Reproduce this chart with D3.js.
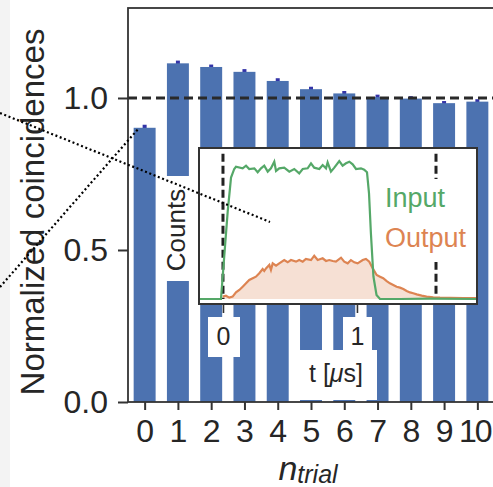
<!DOCTYPE html>
<html>
<head>
<meta charset="utf-8">
<script src="https://cdn.jsdelivr.net/npm/d3@7/dist/d3.min.js"></script>
<style>
  body { margin: 0; background: #fff; }
  text { font-family: Arial, "Liberation Sans", sans-serif; }
</style>
</head>
<body>
<div id="chart"></div>
<script>
// main bars
var trials = [0, 1, 2, 3, 4, 5, 6, 7, 8, 9, 10];
var coincidences = [0.902, 1.114, 1.102, 1.086, 1.056, 1.029, 1.015, 1.003, 0.998, 0.983, 0.988];
var coincErr = [0.010, 0.009, 0.008, 0.009, 0.009, 0.008, 0.008, 0.008, 0.008, 0.007, 0.008];
var yTicks = [0, 0.5, 1.0];

// inset: time in us, counts normalised to the input plateau
var inputTime = [-0.179, -0.097, -0.015, 0.010, 0.035, 0.060, 0.084, 0.097, 0.147, 0.172, 0.196, 0.234, 0.259,
  0.284, 0.308, 0.334, 0.358, 0.383, 0.396, 0.420, 0.457, 0.495, 0.532, 0.569, 0.595, 0.632, 0.657, 0.681,
  0.719, 0.744, 0.769, 0.781, 0.806, 0.831, 0.868, 0.893, 0.918, 0.943, 0.968, 0.993, 1.030, 1.054, 1.075,
  1.090, 1.104, 1.123, 1.146, 1.172, 1.321, 1.545, 1.896];
var inputCounts = [0, 0, 0, 0.33, 0.66, 0.92, 0.985, 1.002, 0.990, 1.010, 0.985, 0.990, 0.960,
  0.990, 1.010, 0.965, 0.990, 1.040, 0.970, 0.990, 0.995, 0.965, 0.985, 0.952, 0.985, 0.990, 1.028, 0.995,
  0.985, 1.015, 0.990, 1.035, 0.965, 0.995, 1.045, 1.010, 1.028, 1.040, 1.020, 0.985, 0.990, 0.980, 0.960,
  0.800, 0.500, 0.170, 0.030, 0, 0, 0.002, 0];
var outputTime = [-0.002, 0.022, 0.047, 0.072, 0.097, 0.122, 0.147, 0.172, 0.196, 0.222, 0.246, 0.271, 0.296,
  0.308, 0.321, 0.346, 0.358, 0.371, 0.396, 0.420, 0.457, 0.483, 0.507, 0.545, 0.569, 0.595, 0.619, 0.657,
  0.681, 0.707, 0.744, 0.769, 0.793, 0.819, 0.843, 0.881, 0.905, 0.931, 0.955, 0.980, 1.005, 1.043, 1.067,
  1.092, 1.120, 1.147, 1.172, 1.196, 1.222, 1.246, 1.271, 1.296, 1.321, 1.346, 1.371, 1.396, 1.420, 1.446,
  1.483, 1.520, 1.569, 1.619, 1.694, 1.793, 1.893];
var outputCounts = [0.018, 0.025, 0.010, 0.018, 0.050, 0.068, 0.093, 0.119, 0.144, 0.157, 0.169, 0.195, 0.227,
  0.212, 0.232, 0.258, 0.220, 0.270, 0.252, 0.270, 0.295, 0.278, 0.295, 0.283, 0.295, 0.283, 0.303, 0.295,
  0.328, 0.295, 0.308, 0.288, 0.295, 0.288, 0.283, 0.313, 0.283, 0.270, 0.295, 0.278, 0.270, 0.295, 0.303,
  0.283, 0.228, 0.182, 0.169, 0.157, 0.136, 0.119, 0.106, 0.093, 0.086, 0.076, 0.061, 0.050, 0.043, 0.035,
  0.025, 0.018, 0.013, 0.010, 0.008, 0.006, 0.006];
var insetTicks = [0, 1];
var pulseMarks = [0, 1.59];
var seriesNames = ["Input", "Output"];

var blue = "#4c72b0", green = "#55a868", orange = "#dd8452", ink = "#262626";

var margin = {top: 8, left: 128},
    width = 366,
    height = 394;

var svg = d3.select("#chart")
  .append("svg")
    .attr("width", 493)
    .attr("height", 487);

// grey page strip on the left
svg.append("rect").attr("x", 0).attr("y", 0).attr("width", 10).attr("height", 487).attr("fill", "#f3f3f3");

var g = svg.append("g")
    .attr("transform", "translate(" + margin.left + "," + margin.top + ")");

var x = d3.scaleLinear().domain([-0.5, 10.5]).range([0, width]);
var y = d3.scaleLinear().domain([0, 1.296]).range([height, 0]);

// error bars go under the bars so only the upper half shows
g.selectAll(".err")
  .data(trials)
  .enter()
  .append("line")
    .attr("x1", function(d) { return x(d); })
    .attr("x2", function(d) { return x(d); })
    .attr("y1", function(d, i) { return y(coincidences[i] - coincErr[i]); })
    .attr("y2", function(d, i) { return y(coincidences[i] + coincErr[i]); })
    .attr("stroke", "#3434a8")
    .attr("stroke-width", 4);

g.selectAll(".bar")
  .data(trials)
  .enter()
  .append("rect")
    .attr("x", function(d) { return x(d - 0.33); })
    .attr("width", x(0.33) - x(-0.33))
    .attr("y", function(d, i) { return y(coincidences[i]); })
    .attr("height", function(d, i) { return height - y(coincidences[i]); })
    .attr("fill", blue);

// reference line at 1
g.append("line")
  .attr("x1", 0).attr("x2", width)
  .attr("y1", y(1)).attr("y2", y(1))
  .attr("stroke", "#2a2a2a")
  .attr("stroke-width", 2.8)
  .attr("stroke-dasharray", "9,5");

// axes
var xAxis = g.append("g")
  .attr("transform", "translate(0," + height + ")")
  .call(d3.axisBottom(x).tickValues(trials).tickSize(8).tickPadding(9).tickFormat(d3.format("d")));
var yAxis = g.append("g")
  .call(d3.axisLeft(y).tickValues(yTicks).tickSize(10).tickPadding(10).tickFormat(d3.format(".1f")));
[xAxis, yAxis].forEach(function(a) {
  a.select(".domain").remove();
  a.selectAll(".tick line").attr("stroke", "#333").attr("stroke-width", 2);
  a.selectAll(".tick text").attr("font-size", 32).attr("fill", ink)
    .style("font-family", "Arial, 'Liberation Sans', sans-serif");
});
// last label squeezed against the edge as in the original
xAxis.selectAll(".tick text").filter(function(d) { return d == 10; })
  .attr("letter-spacing", -2).attr("dx", -3);

g.append("rect")
  .attr("width", width).attr("height", height)
  .attr("fill", "none").attr("stroke", "#333").attr("stroke-width", 1.8);

// axis labels
svg.append("text")
  .attr("transform", "translate(44,212) rotate(-90)")
  .attr("text-anchor", "middle")
  .attr("font-size", 33)
  .attr("fill", ink)
  .text("Normalized coincidences");

var xl = svg.append("text")
  .attr("x", 308).attr("y", 480)
  .attr("text-anchor", "middle")
  .attr("font-style", "italic")
  .attr("fill", ink);
xl.append("tspan").attr("font-size", 34).text("n");
xl.append("tspan").attr("font-size", 25).attr("dy", 3).text("trial");

// white backgrounds of the pasted inset labels
var pads = [[157, 176, 41, 105], [208, 317, 32, 40], [343, 317, 29, 33], [298, 350, 79, 50]];
svg.selectAll(".pad")
  .data(pads)
  .enter()
  .append("rect")
    .attr("x", function(d) { return d[0]; })
    .attr("y", function(d) { return d[1]; })
    .attr("width", function(d) { return d[2]; })
    .attr("height", function(d) { return d[3]; })
    .attr("fill", "#fff");

// inset
var iw = 278, ih = 156;
var inset = svg.append("g").attr("transform", "translate(199,148)");
var ix = d3.scaleLinear().domain([-0.179, 1.896]).range([0, iw]);
var iy = d3.scaleLinear().domain([-0.038, 1.144]).range([ih, 0]);

inset.append("rect").attr("width", iw).attr("height", ih).attr("fill", "#fff");

var outData = outputTime.map(function(t, i) { return [t, outputCounts[i]]; });
var inData = inputTime.map(function(t, i) { return [t, inputCounts[i]]; });

inset.append("path")
  .datum(outData)
  .attr("d", d3.area()
    .x(function(d) { return ix(d[0]); })
    .y0(iy(0))
    .y1(function(d) { return iy(d[1]); }))
  .attr("fill", orange)
  .attr("fill-opacity", 0.25);

var line = d3.line()
  .x(function(d) { return ix(d[0]); })
  .y(function(d) { return iy(d[1]); });

inset.selectAll(".mark")
  .data(pulseMarks)
  .enter()
  .append("line")
    .attr("x1", function(d) { return ix(d); })
    .attr("x2", function(d) { return ix(d); })
    .attr("y1", iy(1.1))
    .attr("y2", iy(0))
    .attr("stroke", "#222")
    .attr("stroke-width", 3)
    .attr("stroke-dasharray", "8,4");

inset.append("path").datum(outData).attr("d", line)
  .attr("fill", "none").attr("stroke", orange).attr("stroke-width", 2.2);
inset.append("path").datum(inData).attr("d", line)
  .attr("fill", "none").attr("stroke", green).attr("stroke-width", 2.2);

// legend text box
inset.append("rect").attr("x", 181).attr("y", 31).attr("width", 92).attr("height", 83).attr("fill", "#fff");
inset.selectAll(".leg")
  .data(seriesNames)
  .enter()
  .append("text")
    .attr("x", 186)
    .attr("y", function(d, i) { return 59 + i * 40; })
    .attr("font-size", 27)
    .attr("fill", function(d, i) { return i == 0 ? green : orange; })
    .text(function(d) { return d; });

inset.append("rect")
  .attr("width", iw).attr("height", ih)
  .attr("fill", "none").attr("stroke", "#333").attr("stroke-width", 2);

var ia = inset.append("g")
  .attr("transform", "translate(0," + ih + ")")
  .call(d3.axisBottom(ix).tickValues(insetTicks).tickSize(9).tickPadding(14).tickFormat(d3.format("d")));
ia.select(".domain").remove();
ia.selectAll(".tick line").attr("stroke", "#333").attr("stroke-width", 1.6);
ia.selectAll(".tick text").attr("font-size", 25).attr("fill", ink)
  .style("font-family", "Arial, 'Liberation Sans', sans-serif");

svg.append("text")
  .attr("transform", "translate(185,230) rotate(-90)")
  .attr("text-anchor", "middle")
  .attr("font-size", 26)
  .attr("fill", ink)
  .text("Counts");

var tl = svg.append("text")
  .attr("x", 336).attr("y", 382)
  .attr("text-anchor", "middle")
  .attr("font-size", 25)
  .attr("fill", ink);
tl.append("tspan").text("t [");
tl.append("tspan").attr("font-style", "italic").text("\u03bc");
tl.append("tspan").text("s]");

// dotted zoom guides
var guides = [[[0, 113], [270, 222]], [[0, 287], [139, 128]]];
svg.selectAll(".guide")
  .data(guides)
  .enter()
  .append("line")
    .attr("x1", function(d) { return d[0][0]; })
    .attr("y1", function(d) { return d[0][1]; })
    .attr("x2", function(d) { return d[1][0]; })
    .attr("y2", function(d) { return d[1][1]; })
    .attr("stroke", "#000")
    .attr("stroke-width", 2.2)
    .attr("stroke-dasharray", "2,2.6");
</script>
</body>
</html>
